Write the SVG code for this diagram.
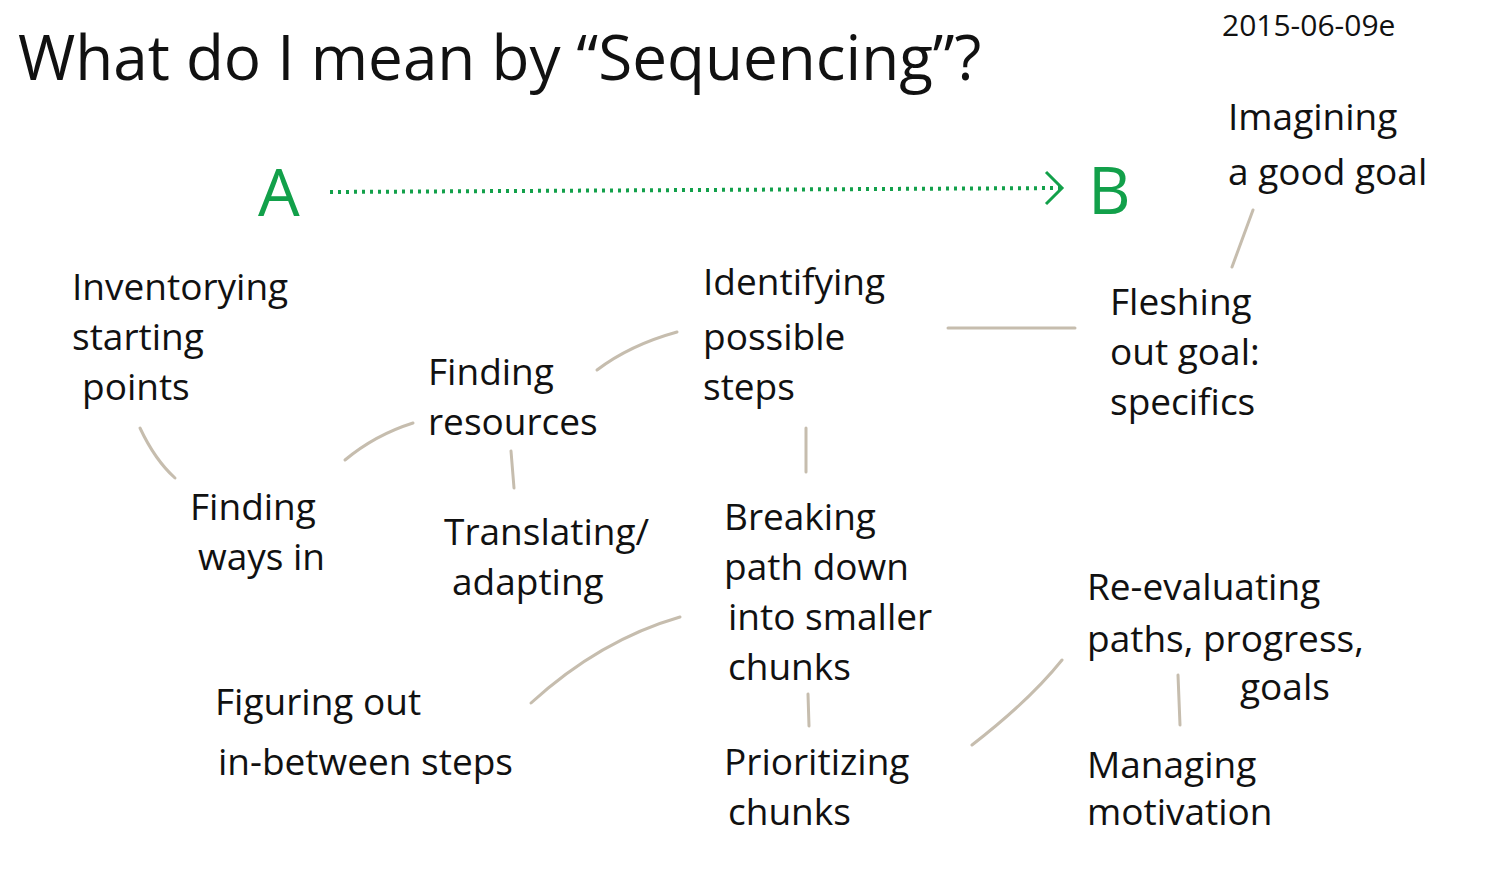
<svg xmlns="http://www.w3.org/2000/svg" width="1497" height="896" viewBox="0 0 1497 896">
<style>
text{font-family:"Open Sans","Liberation Sans",sans-serif;fill:#111}
.n{font-size:37px}
.c{fill:none;stroke:#c6bdae;stroke-width:3;stroke-linecap:round}
</style>
<rect width="1497" height="896" fill="#fff"/>
<text x="18" y="80" style="font-size:62px">What do I mean by “Sequencing”?</text>
<text x="1222" y="36" style="font-size:30px">2015-06-09e</text>
<g id="A"><text x="258" y="216" style="font-size:66px;fill:#12a04a">A</text></g>
<g id="B"><text x="1088" y="214" style="font-size:66px;fill:#12a04a">B</text></g>
<g id="connectors">
<path d="M330 192 L1060 188" fill="none" stroke="#12a04a" stroke-width="4" stroke-dasharray="3 5"/>
<path d="M1046 172 L1062 188 L1046 204" fill="none" stroke="#12a04a" stroke-width="3"/>
<path class="c" d="M677 332 Q630 345 597 370"/>
<path class="c" d="M948 328 L1075 328"/>
<path class="c" d="M806 428 L806 472"/>
<path class="c" d="M1232 267 L1253 210"/>
<path class="c" d="M140 428 Q155 460 175 478"/>
<path class="c" d="M413 423 Q375 435 345 460"/>
<path class="c" d="M511 451 L514 488"/>
<path class="c" d="M680 617 Q600 640 531 703"/>
<path class="c" d="M808 694 L809 726"/>
<path class="c" d="M972 745 Q1030 700 1062 660"/>
<path class="c" d="M1178 675 L1180 725"/>
</g>
<g id="imagining"><text class="n" x="1228" y="130">Imagining</text><text class="n" x="1228" y="185">a good goal</text></g>
<g id="inventorying"><text class="n" x="72" y="300">Inventorying</text><text class="n" x="72" y="350">starting</text><text class="n" x="82" y="400">points</text></g>
<g id="identifying"><text class="n" x="703" y="295">Identifying</text><text class="n" x="703" y="350">possible</text><text class="n" x="703" y="400">steps</text></g>
<g id="fleshing"><text class="n" x="1110" y="315">Fleshing</text><text class="n" x="1110" y="365">out goal:</text><text class="n" x="1110" y="415">specifics</text></g>
<g id="resources"><text class="n" x="428" y="385">Finding</text><text class="n" x="428" y="435">resources</text></g>
<g id="ways"><text class="n" x="190" y="520">Finding</text><text class="n" x="198" y="570">ways in</text></g>
<g id="translating"><text class="n" x="444" y="545">Translating/</text><text class="n" x="452" y="595">adapting</text></g>
<g id="breaking"><text class="n" x="724" y="530">Breaking</text><text class="n" x="724" y="580">path down</text><text class="n" x="728" y="630">into smaller</text><text class="n" x="728" y="680">chunks</text></g>
<g id="figuring"><text class="n" x="215" y="715">Figuring out</text><text class="n" x="218" y="775">in-between steps</text></g>
<g id="prioritizing"><text class="n" x="724" y="775">Prioritizing</text><text class="n" x="728" y="825">chunks</text></g>
<g id="reevaluating"><text class="n" x="1087" y="600">Re-evaluating</text><text class="n" x="1087" y="652">paths, progress,</text><text class="n" x="1240" y="700">goals</text></g>
<g id="managing"><text class="n" x="1087" y="778">Managing</text><text class="n" x="1087" y="825">motivation</text></g>
</svg>
